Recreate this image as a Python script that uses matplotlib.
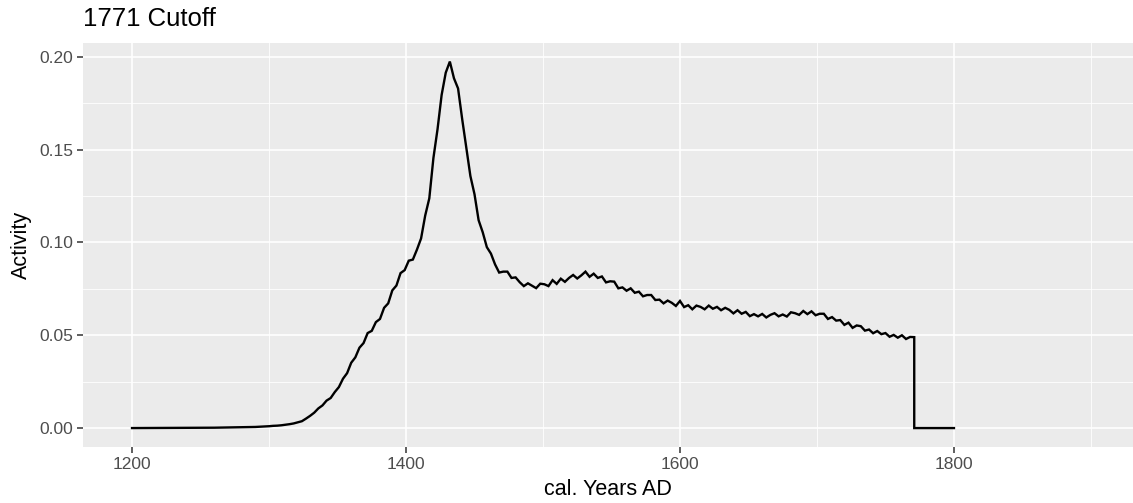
import numpy as np
import matplotlib
matplotlib.use("Agg")
import matplotlib.pyplot as plt
from matplotlib.ticker import MultipleLocator

# Summed activity curve (cal. years AD), truncated at 1771
lead_years = [1200, 1260, 1290]
lead_activity = [0.0, 0.0002, 0.0006]

core_years = list(range(1300, 1772, 3))
core_activity = [
    0.0010, 0.0012, 0.0013, 0.0015, 0.0018, 0.0021, 0.0025, 0.0031, 0.0037, 0.0051,
    0.0066, 0.0083, 0.0106, 0.0122, 0.0148, 0.0162, 0.0194, 0.0221, 0.0266, 0.0296,
    0.0352, 0.0381, 0.0433, 0.0458, 0.0512, 0.0524, 0.0571, 0.0588, 0.0648, 0.0672,
    0.0742, 0.0768, 0.0835, 0.0851, 0.0902, 0.0908, 0.0962, 0.1022, 0.1145, 0.1238,
    0.1455, 0.1610, 0.1795, 0.1915, 0.1975, 0.1885, 0.1830, 0.1665, 0.1512, 0.1358,
    0.1260, 0.1120, 0.1055, 0.0975, 0.0940, 0.0882, 0.0838, 0.0843, 0.0843, 0.0809,
    0.0812, 0.0786, 0.0765, 0.0780, 0.0767, 0.0754, 0.0778, 0.0775, 0.0765, 0.0797,
    0.0777, 0.0805, 0.0788, 0.0809, 0.0825, 0.0806, 0.0823, 0.0843, 0.0815, 0.0832,
    0.0809, 0.0817, 0.0785, 0.0791, 0.0789, 0.0753, 0.0758, 0.0740, 0.0753, 0.0729,
    0.0735, 0.0710, 0.0717, 0.0717, 0.0690, 0.0692, 0.0672, 0.0687, 0.0675, 0.0658,
    0.0685, 0.0652, 0.0662, 0.0640, 0.0660, 0.0653, 0.0640, 0.0660, 0.0643, 0.0653,
    0.0635, 0.0648, 0.0637, 0.0618, 0.0635, 0.0616, 0.0626, 0.0603, 0.0614, 0.0602,
    0.0615, 0.0596, 0.0610, 0.0619, 0.0602, 0.0612, 0.0601, 0.0624, 0.0619, 0.0610,
    0.0631, 0.0614, 0.0629, 0.0608, 0.0616, 0.0616, 0.0588, 0.0598, 0.0579, 0.0582,
    0.0556, 0.0568, 0.0540, 0.0553, 0.0549, 0.0525, 0.0531, 0.0511, 0.0523, 0.0506,
    0.0512, 0.0492, 0.0502, 0.0487, 0.0500, 0.0480, 0.0491, 0.0490,
]

tail_years = [1771, 1800]
tail_activity = [0.0, 0.0]

years = lead_years + core_years + tail_years
activity = lead_activity + core_activity + tail_activity

x_ticks = [1200, 1400, 1600, 1800]
y_ticks = [0.00, 0.05, 0.10, 0.15, 0.20]
y_tick_labels = ["0.00", "0.05", "0.10", "0.15", "0.20"]

plt.rcParams["font.family"] = ["Liberation Sans", "DejaVu Sans"]

fig = plt.figure(figsize=(11.33, 5.03), dpi=100)
ax = fig.add_axes([83 / 1133, 1 - 447 / 503, 1 - 83 / 1133, (447 - 43) / 503])

ax.set_facecolor("#EBEBEB")
for s in ax.spines.values():
    s.set_visible(False)

ax.set_xlim(1164.2, 1930.7)
ax.set_ylim(-0.0102, 0.2075)

ax.set_xticks(x_ticks)
ax.set_yticks(y_ticks)
ax.set_yticklabels(y_tick_labels)
ax.xaxis.set_minor_locator(MultipleLocator(100))
ax.yaxis.set_minor_locator(MultipleLocator(0.025))

ax.grid(which="major", color="white", linewidth=1.2)
ax.grid(which="minor", color="white", linewidth=0.6)
ax.set_axisbelow(True)

ax.tick_params(which="major", length=4, width=1.1, color="#333333",
               labelsize=12.5, labelcolor="#4D4D4D", pad=3)
ax.tick_params(which="minor", length=0)

ax.plot(years, activity, color="black", linewidth=1.7, solid_joinstyle="miter")

ax.set_xlabel("cal. Years AD", fontsize=15.5, color="black", labelpad=5)
ax.set_ylabel("Activity", fontsize=15.5, color="black", labelpad=5)
ax.set_title("1771 Cutoff", fontsize=18.5, loc="left", pad=12, color="black")

fig.savefig("out.png", dpi=100)
